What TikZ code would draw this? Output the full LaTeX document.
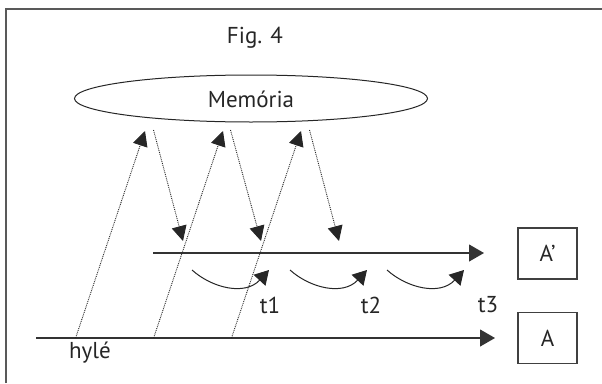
\documentclass[tikz,border=0pt]{standalone}
\usepackage{fontspec}
\setmainfont{PT Sans}
\usetikzlibrary{arrows.meta}
\begin{document}
\begin{tikzpicture}[x=1pt,y=-1pt,
  lbl/.style={inner sep=0pt, font=\fontsize{23}{27}\selectfont, text=black!85},
  boxnode/.style={draw=black!75, line width=1.2pt, minimum width=59pt, minimum height=51pt, inner sep=0pt, font=\fontsize{23}{27}\selectfont, text=black!85},
  axis/.style={draw=black!80, line width=1.1pt, -{Triangle[length=15pt,width=17pt]}},
  dots/.style={draw=black!85, line width=0.9pt, dash pattern=on 0.9pt off 1pt, -{Triangle[length=15pt,width=15pt]}},
  curv/.style={draw=black!85, line width=1pt, -{Triangle[length=14pt,width=16pt]}}]
\useasboundingbox (0,0) rectangle (602,383);
% frame
\draw[black!65, line width=2pt] (5.5,383) -- (5.5,9) -- (602,9);
% title
\node[lbl] (fig) at (255,38) {Fig. 4};
% memory ellipse
\draw[black!85, line width=1pt] (251,98.5) ellipse [x radius=176.5, y radius=23.5];
\node[lbl] (mem) at (251,99) {Memória};
% boxes
\node[boxnode] (Ap) at (547.5,253.5) {A’};
\node[boxnode] (A) at (547.5,338) {A};
% axes
\coordinate (u0) at (153,253);
\coordinate (u1) at (484,253);
\coordinate (l0) at (36,338);
\coordinate (l1) at (495,338);
\draw[axis] (u0) -- (u1);
\draw[axis] (l0) -- (l1);
% upward dotted arrows
\coordinate (b1) at (75.6,338);
\coordinate (b2) at (153.6,338);
\coordinate (b3) at (231.5,338);
\coordinate (m1) at (145,131);
\coordinate (m2) at (223,131);
\coordinate (m3) at (301,131);
\draw[dots] (b1) -- (m1);
\draw[dots] (b2) -- (m2);
\draw[dots] (b3) -- (m3);
% downward dotted arrows
\coordinate (d1s) at (153.5,130);
\coordinate (d2s) at (230.5,130);
\coordinate (d3s) at (309.5,130);
\coordinate (d1e) at (183,241);
\coordinate (d2e) at (261,241);
\coordinate (d3e) at (339,241);
\draw[dots] (d1s) -- (d1e);
\draw[dots] (d2s) -- (d2e);
\draw[dots] (d3s) -- (d3e);
% curved arrows
\foreach \i/\dx in {1/0,2/98,3/195}{
  \coordinate (c\i s) at (192+\dx,270);
  \coordinate (c\i e) at (269+\dx,270);
  \draw[curv] (c\i s) .. controls (212+\dx,288) and (245+\dx,296) .. (c\i e);
}
% labels
\node[lbl] (t1) at (270,305) {t1};
\node[lbl] (t2) at (371,305) {t2};
\node[lbl] (t3) at (488,305) {t3};
\node[lbl] (hyle) at (90,353) {hylé};
\end{tikzpicture}
\end{document}
